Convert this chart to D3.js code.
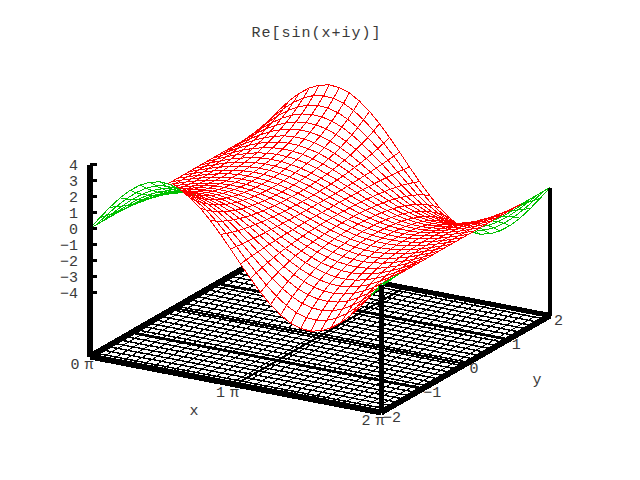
<!DOCTYPE html>
<html><head><meta charset="utf-8">
<script src="https://cdn.jsdelivr.net/npm/d3@7"></script>
<style>html,body{margin:0;background:#fff}svg{display:block}text{font-family:"Liberation Mono",monospace;font-size:15px;fill:#3a3a3a}</style>
</head><body><script>
const title = "Re[sin(x+iy)]";
const xValues = [0,.069,.138,.207,.276,.345,.414,.483,.552,.621,.69,.759,.828,.897,.966,1.034,1.103,1.172,1.241,1.31,1.379,1.448,1.517,1.586,1.655,1.724,1.793,1.862,1.931,2];
const yValues = [-2,-1.862,-1.724,-1.586,-1.448,-1.31,-1.172,-1.034,-.897,-.759,-.621,-.483,-.345,-.207,-.069,.069,.207,.345,.483,.621,.759,.897,1.034,1.172,1.31,1.448,1.586,1.724,1.862,2];
const zRows = [
[0,0,0,0,0,0,0,0,0,0,0,0,0,0,0,0,0,0,0,0,0,0,0,0,0,0,0,0,0,0],
[.81,.71,.62,.55,.48,.43,.38,.34,.31,.28,.26,.24,.23,.22,.22,.22,.22,.23,.24,.26,.28,.31,.34,.38,.43,.48,.55,.62,.71,.81],
[1.58,1.38,1.21,1.07,.94,.83,.74,.67,.6,.55,.5,.47,.45,.43,.42,.42,.43,.45,.47,.5,.55,.6,.67,.74,.83,.94,1.07,1.21,1.38,1.58],
[2.28,1.99,1.75,1.54,1.36,1.2,1.07,.96,.87,.79,.73,.68,.64,.62,.61,.61,.62,.64,.68,.73,.79,.87,.96,1.07,1.2,1.36,1.54,1.75,1.99,2.28],
[2.87,2.51,2.2,1.94,1.71,1.52,1.35,1.21,1.09,.99,.91,.85,.81,.78,.76,.76,.78,.81,.85,.91,.99,1.09,1.21,1.35,1.52,1.71,1.94,2.2,2.51,2.87],
[3.32,2.91,2.56,2.25,1.98,1.76,1.56,1.4,1.26,1.15,1.06,.99,.94,.9,.89,.89,.9,.94,.99,1.06,1.15,1.26,1.4,1.56,1.76,1.98,2.25,2.56,2.91,3.32],
[3.62,3.18,2.79,2.45,2.16,1.92,1.71,1.53,1.38,1.25,1.16,1.08,1.02,.98,.97,.97,.98,1.02,1.08,1.16,1.25,1.38,1.53,1.71,1.92,2.16,2.45,2.79,3.18,3.62],
[3.76,3.29,2.89,2.54,2.24,1.99,1.77,1.58,1.43,1.3,1.2,1.12,1.06,1.02,1,1,1.02,1.06,1.12,1.2,1.3,1.43,1.58,1.77,1.99,2.24,2.54,2.89,3.29,3.76],
[3.71,3.25,2.85,2.51,2.22,1.96,1.75,1.56,1.41,1.28,1.18,1.1,1.05,1.01,.99,.99,1.01,1.05,1.1,1.18,1.28,1.41,1.56,1.75,1.96,2.22,2.51,2.85,3.25,3.71],
[3.5,3.06,2.69,2.36,2.09,1.85,1.64,1.47,1.33,1.21,1.11,1.04,.98,.95,.93,.93,.95,.98,1.04,1.11,1.21,1.33,1.47,1.64,1.85,2.09,2.36,2.69,3.06,3.5],
[3.11,2.73,2.39,2.11,1.86,1.65,1.46,1.31,1.18,1.08,.99,.93,.88,.85,.83,.83,.85,.88,.93,.99,1.08,1.18,1.31,1.46,1.65,1.86,2.11,2.39,2.73,3.11],
[2.59,2.27,1.99,1.75,1.54,1.37,1.22,1.09,.98,.9,.82,.77,.73,.7,.69,.69,.7,.73,.77,.82,.9,.98,1.09,1.22,1.37,1.54,1.75,1.99,2.27,2.59],
[1.94,1.7,1.49,1.31,1.16,1.03,.91,.82,.74,.67,.62,.58,.55,.53,.52,.52,.53,.55,.58,.62,.67,.74,.82,.91,1.03,1.16,1.31,1.49,1.7,1.94],
[1.2,1.05,.92,.81,.72,.63,.57,.51,.46,.42,.38,.36,.34,.33,.32,.32,.33,.34,.36,.38,.42,.46,.51,.57,.63,.72,.81,.92,1.05,1.2],
[.41,.36,.31,.28,.24,.21,.19,.17,.15,.14,.13,.12,.11,.11,.11,.11,.11,.11,.12,.13,.14,.15,.17,.19,.21,.24,.28,.31,.36,.41],
[-.41,-.36,-.31,-.28,-.24,-.21,-.19,-.17,-.15,-.14,-.13,-.12,-.11,-.11,-.11,-.11,-.11,-.11,-.12,-.13,-.14,-.15,-.17,-.19,-.21,-.24,-.28,-.31,-.36,-.41],
[-1.2,-1.05,-.92,-.81,-.72,-.63,-.57,-.51,-.46,-.42,-.38,-.36,-.34,-.33,-.32,-.32,-.33,-.34,-.36,-.38,-.42,-.46,-.51,-.57,-.63,-.72,-.81,-.92,-1.05,-1.2],
[-1.94,-1.7,-1.49,-1.31,-1.16,-1.03,-.91,-.82,-.74,-.67,-.62,-.58,-.55,-.53,-.52,-.52,-.53,-.55,-.58,-.62,-.67,-.74,-.82,-.91,-1.03,-1.16,-1.31,-1.49,-1.7,-1.94],
[-2.59,-2.27,-1.99,-1.75,-1.54,-1.37,-1.22,-1.09,-.98,-.9,-.82,-.77,-.73,-.7,-.69,-.69,-.7,-.73,-.77,-.82,-.9,-.98,-1.09,-1.22,-1.37,-1.54,-1.75,-1.99,-2.27,-2.59],
[-3.11,-2.73,-2.39,-2.11,-1.86,-1.65,-1.46,-1.31,-1.18,-1.08,-.99,-.93,-.88,-.85,-.83,-.83,-.85,-.88,-.93,-.99,-1.08,-1.18,-1.31,-1.46,-1.65,-1.86,-2.11,-2.39,-2.73,-3.11],
[-3.5,-3.06,-2.69,-2.36,-2.09,-1.85,-1.64,-1.47,-1.33,-1.21,-1.11,-1.04,-.98,-.95,-.93,-.93,-.95,-.98,-1.04,-1.11,-1.21,-1.33,-1.47,-1.64,-1.85,-2.09,-2.36,-2.69,-3.06,-3.5],
[-3.71,-3.25,-2.85,-2.51,-2.22,-1.96,-1.75,-1.56,-1.41,-1.28,-1.18,-1.1,-1.05,-1.01,-.99,-.99,-1.01,-1.05,-1.1,-1.18,-1.28,-1.41,-1.56,-1.75,-1.96,-2.22,-2.51,-2.85,-3.25,-3.71],
[-3.76,-3.29,-2.89,-2.54,-2.24,-1.99,-1.77,-1.58,-1.43,-1.3,-1.2,-1.12,-1.06,-1.02,-1,-1,-1.02,-1.06,-1.12,-1.2,-1.3,-1.43,-1.58,-1.77,-1.99,-2.24,-2.54,-2.89,-3.29,-3.76],
[-3.62,-3.18,-2.79,-2.45,-2.16,-1.92,-1.71,-1.53,-1.38,-1.25,-1.16,-1.08,-1.02,-.98,-.97,-.97,-.98,-1.02,-1.08,-1.16,-1.25,-1.38,-1.53,-1.71,-1.92,-2.16,-2.45,-2.79,-3.18,-3.62],
[-3.32,-2.91,-2.56,-2.25,-1.98,-1.76,-1.56,-1.4,-1.26,-1.15,-1.06,-.99,-.94,-.9,-.89,-.89,-.9,-.94,-.99,-1.06,-1.15,-1.26,-1.4,-1.56,-1.76,-1.98,-2.25,-2.56,-2.91,-3.32],
[-2.87,-2.51,-2.2,-1.94,-1.71,-1.52,-1.35,-1.21,-1.09,-.99,-.91,-.85,-.81,-.78,-.76,-.76,-.78,-.81,-.85,-.91,-.99,-1.09,-1.21,-1.35,-1.52,-1.71,-1.94,-2.2,-2.51,-2.87],
[-2.28,-1.99,-1.75,-1.54,-1.36,-1.2,-1.07,-.96,-.87,-.79,-.73,-.68,-.64,-.62,-.61,-.61,-.62,-.64,-.68,-.73,-.79,-.87,-.96,-1.07,-1.2,-1.36,-1.54,-1.75,-1.99,-2.28],
[-1.58,-1.38,-1.21,-1.07,-.94,-.83,-.74,-.67,-.6,-.55,-.5,-.47,-.45,-.43,-.42,-.42,-.43,-.45,-.47,-.5,-.55,-.6,-.67,-.74,-.83,-.94,-1.07,-1.21,-1.38,-1.58],
[-.81,-.71,-.62,-.55,-.48,-.43,-.38,-.34,-.31,-.28,-.26,-.24,-.23,-.22,-.22,-.22,-.22,-.23,-.24,-.26,-.28,-.31,-.34,-.38,-.43,-.48,-.55,-.62,-.71,-.81],
[0,0,0,0,0,0,0,0,0,0,0,0,0,0,0,0,0,0,0,0,0,0,0,0,0,0,0,0,0,0]
];
const zTicks = [-4,-3,-2,-1,0,1,2,3,4];
const xTicks = [0,1,2];
const yTicks = [-2,-1,0,1,2];

const sxH = d3.scaleLinear([0,2],[90,381]), sxV = d3.scaleLinear([0,2],[356.5,412.5]);
const syH = d3.scaleLinear([-2,2],[0,169]), syV = d3.scaleLinear([-2,2],[0,-97]);
const zS = d3.scaleLinear([-8,4],[0,-192]);
const P = (x,y,z) => [sxH(x)+syH(y), sxV(x)+syV(y)+zS(z)];
const svg = d3.select("body").append("svg").attr("width",640).attr("height",480);
const seg = (a,b,w,c="#000",g=svg) => g.append("path").attr("d",d3.line()([a,b])).attr("stroke",c).attr("stroke-width",w).attr("fill","none").attr("shape-rendering","crispEdges");

// base mesh
const zB = -8, x0=0, x1=2, y0=-2, y1=2;
xValues.forEach(x=>seg(P(x,y0,zB),P(x,y1,zB),1));
yValues.forEach(y=>seg(P(x0,y,zB),P(x1,y,zB),1.4));
// base grid at ticks
xTicks.forEach(x=>seg(P(x,y0,zB),P(x,y1,zB),2));
yTicks.forEach(y=>seg(P(x0,y,zB),P(x1,y,zB),2));
// base border
seg(P(x0,y1,zB),P(x1,y1,zB),5);
seg(P(x0,y0,zB),P(x0,y1,zB),6);
seg(P(x0,y0,zB),P(x1,y0,zB),6);
seg(P(x1,y0,zB),P(x1,y1,zB),6);

// surface: back to front, so nearer cells hide farther ones
const surf = svg.append("g");
const line = d3.line();
for (let i=0;i<xValues.length-1;i++) for (let j=yValues.length-2;j>=0;j--) {
  const q=[P(xValues[i],yValues[j],zRows[i][j]),P(xValues[i+1],yValues[j],zRows[i+1][j]),P(xValues[i+1],yValues[j+1],zRows[i+1][j+1]),P(xValues[i],yValues[j+1],zRows[i][j+1])];
  const area=d3.polygonArea(q);
  const d=line(q)+"Z";
  surf.append("path").attr("d",d).attr("fill","#fff").attr("stroke","none");
  surf.append("path").attr("d",d).attr("fill","none").attr("stroke",area>0?"#ff0000":"#00c000").attr("stroke-width",1).attr("shape-rendering","crispEdges");
}

// verticals
seg(P(x0,y0,zB),P(x0,y0,4),5.5);
seg(P(x1,y0,zB),P(x1,y0,0),5);
seg(P(x1,y1,zB),P(x1,y1,0),4);
// z ticks and labels
zTicks.forEach(v=>{
  const p=P(x0,y0,v);
  seg([p[0],p[1]],[p[0]+7,p[1]],3.5);
  svg.append("text").attr("x",p[0]-12).attr("y",p[1]+5).attr("text-anchor","end").text(String(v).replace("-","\u2212"));
});
xTicks.forEach(v=>{
  const p=P(v,y0,zB);
  svg.append("text").attr("x",p[0]-9).attr("y",p[1]+12).attr("text-anchor","middle").attr("letter-spacing","-2").text(v+" \u03c0");
});
yTicks.forEach(v=>{
  const p=P(x1,v,zB);
  svg.append("text").attr("x",p[0]+(v<0?(v==-2?2:0):4)).attr("y",p[1]+9).text(String(v).replace("-","\u2212"));
});
svg.append("text").attr("x",194).attr("y",415).attr("text-anchor","middle").text("x");
svg.append("text").attr("x",537).attr("y",384).attr("text-anchor","middle").text("y");
svg.append("text").attr("x",316.5).attr("y",37).attr("text-anchor","middle").attr("letter-spacing","1").text(title);
</script></body></html>
